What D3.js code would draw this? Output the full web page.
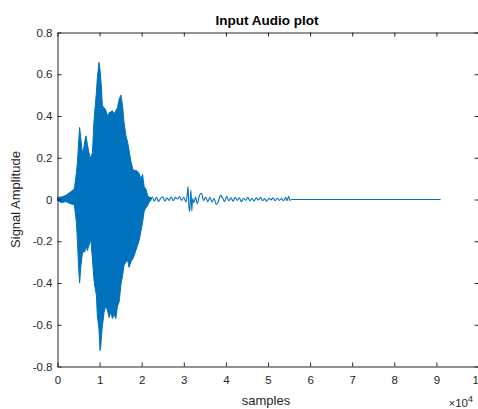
<!DOCTYPE html>
<html>
<head>
<meta charset="utf-8">
<script src="https://cdn.jsdelivr.net/npm/d3@7"></script>
<style>
    body { margin: 0; background: #fff; }
    text { font-family: "Liberation Sans", Arial, Helvetica, sans-serif; }
</style>
</head>
<body>
<div id="chart"></div>
<script>
// dense part of the waveform: per-sample envelope
const envSamples = [0, 1000, 2000, 3000, 4000, 4500, 4750, 5000, 5250, 5550, 5900, 6200, 6500, 6750,
    7100, 7450, 7900, 8300, 8650, 8900, 9250, 9450, 9850, 10100, 10250, 10450, 10650, 11050, 11450,
    11850, 12250, 12650, 13050, 13450, 13850, 14250, 14650, 15050, 15450, 15800, 16250, 16650, 17000,
    17400, 17850, 18200, 18600, 19000, 19400, 19800, 20200, 20600, 21000, 21400, 21800, 22200];
const envMax = [0.01, 0.012, 0.02, 0.035, 0.05, 0.13, 0.18, 0.27, 0.345, 0.29, 0.225, 0.24, 0.28, 0.305,
    0.265, 0.225, 0.195, 0.225, 0.37, 0.435, 0.515, 0.58, 0.657, 0.62, 0.586, 0.53, 0.45, 0.44, 0.43,
    0.40, 0.415, 0.42, 0.425, 0.41, 0.425, 0.44, 0.48, 0.50, 0.45, 0.37, 0.305, 0.275, 0.235,
    0.187, 0.147, 0.139, 0.139, 0.135, 0.123, 0.10, 0.12, 0.06, 0.05, 0.02, 0.01, 0.01];
const envMin = [-0.005, -0.015, -0.01, -0.02, -0.025, -0.11, -0.205, -0.32, -0.40, -0.32, -0.26, -0.25, -0.25, -0.22,
    -0.245, -0.22, -0.19, -0.285, -0.38, -0.42, -0.46, -0.555, -0.62, -0.723, -0.71, -0.65, -0.61, -0.54, -0.51,
    -0.53, -0.565, -0.54, -0.57, -0.55, -0.57, -0.51, -0.49, -0.41, -0.365, -0.315, -0.30, -0.29, -0.325,
    -0.30, -0.285, -0.27, -0.245, -0.22, -0.195, -0.155, -0.11, -0.055, -0.04, -0.03, -0.01, -0.005];

// quiet tail of the signal
const tailSamples = [22200, 22500, 23000, 23500, 24000, 24500, 25000, 25500, 26000, 26500, 27000, 27500,
    28000, 28500, 29000, 29500, 30000, 30500, 30800, 31000, 31200, 31400, 31550, 31700, 31900, 32100,
    32400, 32800, 33200, 33700, 34200, 34700, 35200, 35700, 36200, 36700, 37200, 37700, 38200, 38700,
    39200, 39700, 40200, 40700, 41200, 41700, 42200, 42700, 43200, 43700, 44200, 44700, 45200, 45700,
    46200, 46700, 47200, 47700, 48200, 48700, 49200, 49700, 50200, 50700, 51200, 51700, 52200, 52700,
    53200, 53700, 54200, 54500, 54900, 55200, 55600, 91000];
const tailValues = [0, 0.012, -0.008, 0.01, -0.01, 0.006, 0.012, -0.008, 0.008, -0.004, 0.012, -0.006,
    0.01, 0.002, 0.014, -0.004, 0.01, -0.012, 0.02, 0.062, -0.03, -0.058, 0.0, 0.045, -0.055, 0.005,
    -0.015, 0.012, -0.02, 0.018, 0.03, -0.005, 0.012, -0.01, 0.01, -0.012, 0.005, -0.024, -0.01, 0.02,
    0.008, -0.01, 0.015, -0.006, 0.008, -0.008, 0.01, -0.004, 0.008, -0.01, 0.006, -0.004, 0.01, -0.006,
    0.006, -0.008, 0.008, -0.002, 0.01, -0.006, 0.004, -0.008, 0.006, -0.002, 0.008, -0.006, 0.006, -0.004,
    0.004, -0.006, 0.01, -0.006, 0.015, -0.004, 0, 0];

const xTicks = [0, 10000, 20000, 30000, 40000, 50000, 60000, 70000, 80000, 90000, 100000];
const xTickLabels = ["0", "1", "2", "3", "4", "5", "6", "7", "8", "9", "10"];
const yTicks = [-0.8, -0.6, -0.4, -0.2, 0, 0.2, 0.4, 0.6, 0.8];
const yTickLabels = ["-0.8", "-0.6", "-0.4", "-0.2", "0", "0.2", "0.4", "0.6", "0.8"];

const lineColor = "#0072BD";
const axisColor = "#262626";

function drawAudioPlot() {
    const totalWidth = 478, totalHeight = 409;
    let margin = {top: 32.5, right: 0, bottom: 42.5, left: 57.5};
    let width = 421;
    let height = 334;

    let svg = d3.select("#chart").append("svg")
        .attr("width", totalWidth)
        .attr("height", totalHeight);

    const g = svg.append("g")
        .attr("transform", "translate(" + margin.left + "," + margin.top + ")");

    let x = d3.scaleLinear().domain([0, 100000]).range([0, width]);
    let y = d3.scaleLinear().domain([-0.8, 0.8]).range([height, 0]);

    // signal: envelope of the loud part, then the quiet tail
    let envData = envSamples.map((s, i) => ({s: s, hi: envMax[i], lo: envMin[i]}));
    let tailData = tailSamples.map((s, i) => ({s: s, v: tailValues[i]}));

    g.append("path")
        .datum(envData)
        .attr("fill", lineColor)
        .attr("stroke", lineColor)
        .attr("stroke-width", 1)
        .attr("d", d3.area()
            .x(d => x(d.s))
            .y0(d => y(d.lo))
            .y1(d => y(d.hi)));

    g.append("path")
        .datum(tailData)
        .attr("fill", "none")
        .attr("stroke", lineColor)
        .attr("stroke-width", 1.1)
        .attr("d", d3.line()
            .curve(d3.curveMonotoneX)
            .x(d => x(d.s))
            .y(d => y(d.v)));

    // box with inward ticks on all four sides
    let tickLen = 4;
    const fmtX = (d, i) => xTickLabels[i];
    const fmtY = (d, i) => yTickLabels[i];

    g.append("g")
        .attr("transform", "translate(0," + height + ")")
        .call(d3.axisBottom(x).tickValues(xTicks).tickFormat(fmtX)
            .tickSizeInner(-tickLen).tickSizeOuter(0).tickPadding(9));
    g.append("g")
        .call(d3.axisLeft(y).tickValues(yTicks).tickFormat(fmtY)
            .tickSizeInner(-tickLen).tickSizeOuter(0).tickPadding(5));
    g.append("g")
        .call(d3.axisTop(x).tickValues(xTicks).tickFormat("")
            .tickSizeInner(-tickLen).tickSizeOuter(0));
    g.append("g")
        .attr("transform", "translate(" + width + ",0)")
        .call(d3.axisRight(y).tickValues(yTicks).tickFormat("")
            .tickSizeInner(-tickLen).tickSizeOuter(0));

    g.selectAll(".domain, .tick line").attr("stroke", axisColor);
    g.selectAll(".tick text")
        .attr("fill", axisColor)
        .style("font-family", "'Liberation Sans', Arial, sans-serif")
        .style("font-size", "11.5px");

    // titles
    svg.append("text")
        .attr("x", margin.left + width / 2 - 1)
        .attr("y", 25)
        .attr("text-anchor", "middle")
        .style("font-size", "13.5px")
        .style("font-weight", "bold")
        .attr("fill", "#000")
        .text("Input Audio plot");

    svg.append("text")
        .attr("x", margin.left + width / 2 - 2)
        .attr("y", 405)
        .attr("text-anchor", "middle")
        .style("font-size", "13px")
        .attr("fill", axisColor)
        .text("samples");

    svg.append("text")
        .attr("transform", "translate(20," + (margin.top + height / 2) + ")rotate(-90)")
        .attr("text-anchor", "middle")
        .style("font-size", "13px")
        .attr("fill", axisColor)
        .text("Signal Amplitude");

    // exponent of the x axis
    let expo = svg.append("text")
        .attr("x", 473)
        .attr("y", 406.5)
        .attr("text-anchor", "end")
        .style("font-size", "11.5px")
        .attr("fill", axisColor);
    expo.append("tspan").text("\u00d710");
    expo.append("tspan").attr("dy", -5).style("font-size", "9px").text("4");
}

drawAudioPlot();
</script>
</body>
</html>
